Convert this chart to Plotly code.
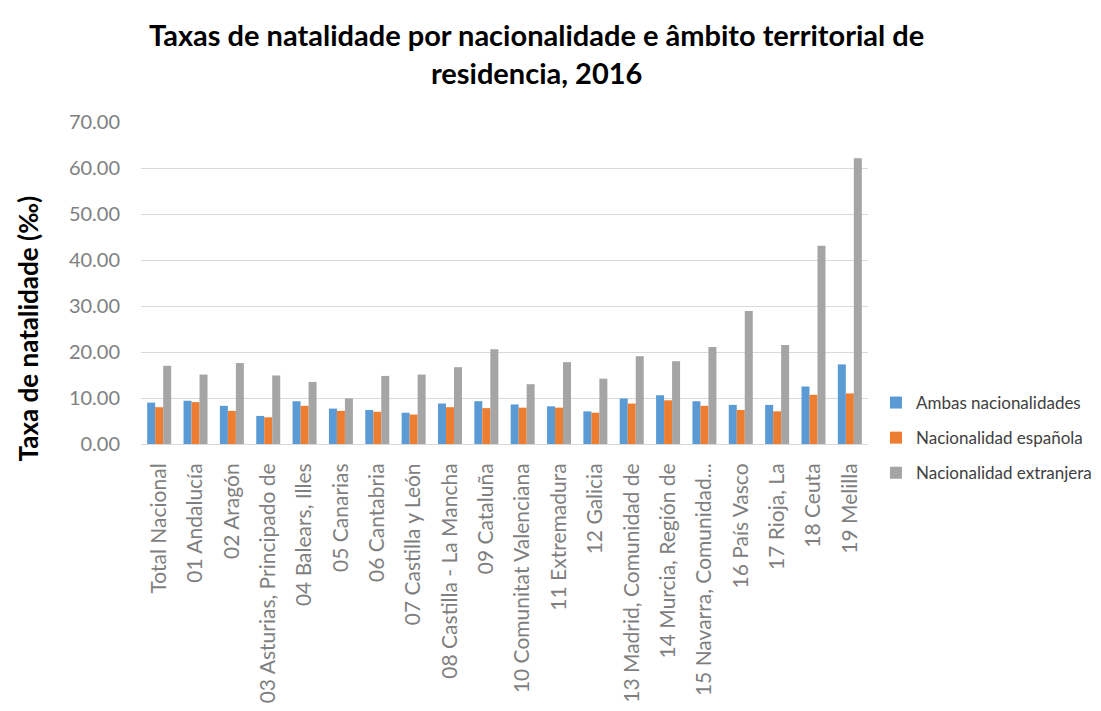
import plotly.graph_objects as go

categories = ["Total Nacional", "01 Andalucía", "02 Aragón", "03 Asturias, Principado de",
              "04 Balears, Illes", "05 Canarias", "06 Cantabria", "07 Castilla y León",
              "08 Castilla - La Mancha", "09 Cataluña", "10 Comunitat Valenciana",
              "11 Extremadura", "12 Galicia", "13 Madrid, Comunidad de", "14 Murcia, Región de",
              "15 Navarra, Comunidad...", "16 País Vasco", "17 Rioja, La", "18 Ceuta", "19 Melilla"]

ambas = [9.0, 9.4, 8.3, 6.1, 9.3, 7.7, 7.4, 6.8, 8.8, 9.3, 8.6, 8.2, 7.1, 9.9, 10.6, 9.3, 8.5, 8.5, 12.5, 17.3]
espanola = [8.0, 9.1, 7.2, 5.8, 8.3, 7.2, 7.0, 6.4, 8.0, 7.8, 7.9, 7.9, 6.8, 8.8, 9.5, 8.3, 7.4, 7.1, 10.7, 11.0]
extranjera = [17.0, 15.1, 17.6, 14.9, 13.5, 9.9, 14.8, 15.1, 16.7, 20.6, 13.0, 17.8, 14.2, 19.1, 18.0, 21.1, 28.9, 21.5, 43.1, 62.1]

series = [("Ambas nacionalidades", ambas, "#5B9BD5"),
          ("Nacionalidad española", espanola, "#ED7D31"),
          ("Nacionalidad extranjera", extranjera, "#A5A5A5")]

title_text = "Taxas de natalidade por nacionalidade e âmbito territorial de<br>residencia, 2016"
y_title = "Taxa de natalidade (‰)"

font = "Lato"
fig = go.Figure()
for name, vals, col in series:
    fig.add_trace(go.Bar(x=categories, y=vals, name=name, marker_color=col,
                         marker_line_width=0, legendgroup=name))

# target plot area (page pixels): x 141..871, y 122..444; page body has 8px margin
L, T, W, H = 133, 114, 730, 322
PX0, PY0 = 141, 444


def px(xpage):
    return (xpage - PX0) / W


def py(ypage):
    return (PY0 - ypage) / H


annotations = [
    dict(text="<b>%s</b>" % title_text, xref="paper", yref="paper", x=px(538), y=py(53),
         xanchor="center", yanchor="middle", showarrow=False, align="center",
         font=dict(size=29, color="#000000", family=font)),
    dict(text="<b>%s</b>" % y_title, xref="paper", yref="paper", x=px(28), y=py(328),
         xanchor="center", yanchor="middle", showarrow=False, textangle=-90,
         font=dict(size=26, color="#000000", family=font)),
]

fig.update_layout(
    width=1101, height=711,
    paper_bgcolor="white", plot_bgcolor="white",
    margin=dict(l=L, r=1101 - L - W, t=T, b=711 - T - H),
    barmode="group", bargap=0.34, bargroupgap=0,
    font=dict(family=font, color="#595959"),
    annotations=annotations,
    legend=dict(x=px(879), xanchor="left", y=py(438), yanchor="middle",
                font=dict(size=17, color="#404040", family=font),
                tracegroupgap=10, traceorder="grouped", bgcolor="rgba(0,0,0,0)"),
    showlegend=True,
)
fig.update_yaxes(range=[0, 70], dtick=10, tickformat=".2f", showgrid=True,
                 gridcolor="#D9D9D9", gridwidth=1, zeroline=False, showline=False,
                 ticks="", ticklabelstandoff=20, automargin=False,
                 tickfont=dict(size=20, color="#7F7F7F"))
fig.update_xaxes(tickangle=-90, tickfont=dict(size=21, color="#7F7F7F"), showline=True,
                 linecolor="#D9D9D9", linewidth=1, ticks="", showgrid=False,
                 ticklabelstandoff=10, automargin=False)

fig.write_html("out.html")
